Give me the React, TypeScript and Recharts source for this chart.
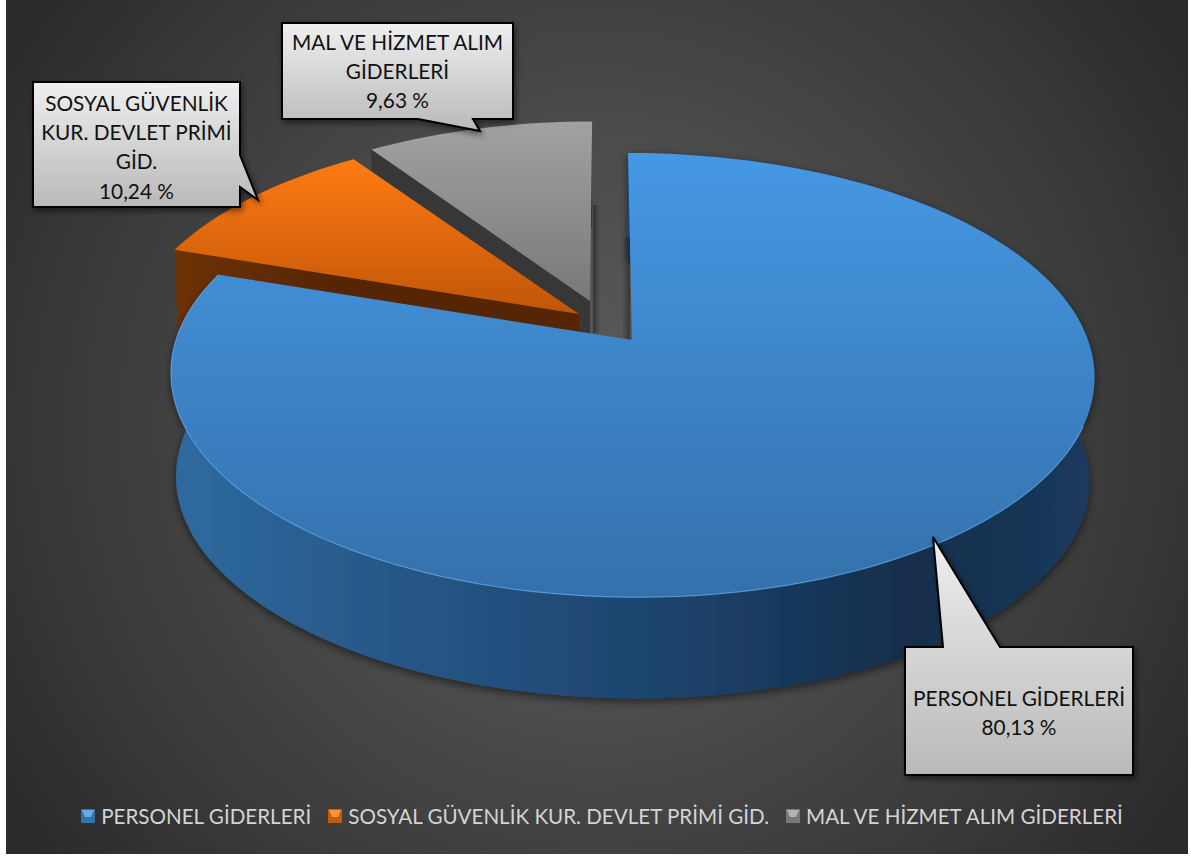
import React from "react";
import { PieChart, Pie, Legend } from "recharts";

const categories = [
  "PERSONEL GİDERLERİ",
  "SOSYAL GÜVENLİK KUR. DEVLET PRİMİ GİD.",
  "MAL VE HİZMET ALIM GİDERLERİ",
];
const shares = [80.13, 10.24, 9.63];
const calloutLines = [
  ["PERSONEL GİDERLERİ"],
  ["SOSYAL GÜVENLİK", "KUR. DEVLET PRİMİ", "GİD."],
  ["MAL VE HİZMET ALIM", "GİDERLERİ"],
];
const sliceColors = ["#4698e4", "#ff7b13", "#a2a2a2"];

const FONT = "Lato, 'Open Sans', sans-serif";
const WIDTH = 1182;
const HEIGHT = 854;

// Look of each slice: top gradient, wall colour, how far it is pulled out
const sliceStyles = [
  { top: ["#4698e4", "#3470ab"], wall: "#1f4f80", pull: [0, 0], lean: 4.6, scale: 1 },
  { top: ["#ff7b13", "#c05507"], wall: "#552504", pull: [-53, -26], lean: 0, scale: 0.982 },
  { top: ["#a2a2a2", "#787878"], wall: "#373737", pull: [-42, -39], lean: -2.4, scale: 0.96 },
];

// Callout boxes with their pointer, in chart coordinates
const callouts = [
  {
    box: [899, 647, 228, 128],
    tail: [[937, 647], [927, 537], [994, 647]],
    side: "top",
    textY: 697,
  },
  {
    box: [27, 82, 207, 125],
    tail: [[234, 155], [252, 200], [234, 187]],
    side: "right",
    textY: 102,
  },
  {
    box: [276, 23, 231, 96],
    tail: [[467, 119], [474, 131], [412, 119]],
    side: "bottom",
    textY: 41,
  },
];

// Drawn back to front, so the large slice ends up over the other two
const table = categories
  .map((name, i) => ({ name, value: shares[i], fill: sliceColors[i], order: i }))
  .reverse();

const TILT = 0.475;
const PERSPECTIVE = 0.158;
const DEPTH = 104;
const FLOOR_SCALE = 0.989;

// Puts a point of the round pie on the tilted disc. deg runs clockwise from 12 o'clock.
function project(cx: number, cy: number, r: number, deg: number, lean: number, floor = false) {
  const a = (deg * Math.PI) / 180;
  const u = Math.sin(a);
  const v = -Math.cos(a);
  const w = 1 - PERSPECTIVE * v;
  const s = floor ? FLOOR_SCALE : 1;
  return [
    cx + (s * r * u + lean * v) / w,
    cy + (floor ? DEPTH : 0) + (s * r * TILT * v) / w,
  ];
}

function arc(cx: number, cy: number, r: number, from: number, to: number, lean: number, floor = false) {
  const pts: number[][] = [];
  const steps = Math.max(8, Math.ceil(Math.abs(to - from) / 2));
  for (let i = 0; i <= steps; i++) {
    pts.push(project(cx, cy, r, from + ((to - from) * i) / steps, lean, floor));
  }
  return pts;
}

const toLine = (pts: number[][]) =>
  "M" + pts.map((p) => `${p[0].toFixed(1)},${p[1].toFixed(1)}`).join("L");
const toPath = (pts: number[][]) => toLine(pts) + "Z";

function SliceShape(props: any) {
  const { cx, cy, outerRadius, startAngle, endAngle, payload } = props;
  const order: number = payload.order;
  const st = sliceStyles[order];
  const px = cx + st.pull[0];
  const py = cy + st.pull[1];
  const r = outerRadius * st.scale;
  // library angles are counter-clockwise from 3 o'clock
  const a0 = 90 - Math.max(startAngle, endAngle);
  const a1 = 90 - Math.min(startAngle, endAngle);
  const from = ((a0 % 360) + 360) % 360;
  const to = from + (a1 - a0);
  const topArc = arc(px, py, r, from, to, st.lean);
  const floorArc = arc(px, py, r, from, to, st.lean, true);
  const id = `slice-${order}`;

  return (
    <g>
      <defs>
        <linearGradient id={id} x1="0" y1="0" x2="0" y2="1">
          <stop offset="0" stopColor={st.top[0]} />
          <stop offset="1" stopColor={st.top[1]} />
        </linearGradient>
        <linearGradient id="blue-wall" gradientUnits="userSpaceOnUse" x1="170" y1="0" x2="1085" y2="0">
          <stop offset="0" stopColor="#2e6a9f" />
          <stop offset="0.2" stopColor="#285a8a" />
          <stop offset="0.5" stopColor="#1e4670" />
          <stop offset="0.8" stopColor="#142e4b" />
          <stop offset="1" stopColor="#1b3a5c" />
        </linearGradient>
        <linearGradient id="orange-cut" gradientUnits="userSpaceOnUse" x1="170" y1="0" x2="330" y2="0">
          <stop offset="0" stopColor="#6e3205" />
          <stop offset="1" stopColor="#552504" />
        </linearGradient>
        <linearGradient id="gap-left" x1="0" y1="0" x2="1" y2="0">
          <stop offset="0" stopColor="#000" stopOpacity="0" />
          <stop offset="1" stopColor="#000" stopOpacity="0.35" />
        </linearGradient>
        <linearGradient id="gap-right" x1="0" y1="0" x2="1" y2="0">
          <stop offset="0" stopColor="#000" stopOpacity="0.4" />
          <stop offset="1" stopColor="#000" stopOpacity="0" />
        </linearGradient>
        <filter id="pie-shadow" x="-5%" y="-5%" width="110%" height="115%">
          <feDropShadow dx="0" dy="3" stdDeviation="4" floodColor="#000" floodOpacity="0.55" />
        </filter>
      </defs>

      {/* outer wall */}
      <path
        d={toPath([...topArc, ...[...floorArc].reverse()])}
        fill={order === 0 ? "url(#blue-wall)" : order === 1 ? "#6e3205" : st.wall}
        filter={order === 0 ? "url(#pie-shadow)" : undefined}
      />

      {/* cut face, only the pulled out slices show one */}
      {order > 0 && (
        <path
          d={toPath([[px, py], topArc[0], floorArc[0], [px, py + DEPTH]])}
          fill={order === 1 ? "url(#orange-cut)" : st.wall}
        />
      )}
      {order === 2 && <rect x={px + 3} y={205} width={7} height={128} fill="url(#gap-right)" />}
      {order === 0 && <rect x={cx - 10} y={237} width={8} height={103} fill="url(#gap-left)" />}

      {/* top face */}
      <path d={toPath([[px, py], ...topArc])} fill={`url(#${id})`} />
      {order === 0 && (
        <path
          d={toLine(arc(px, py, r, 112, to, st.lean))}
          fill="none"
          stroke="#5aa5e8"
          strokeOpacity={0.8}
          strokeWidth={1.2}
        />
      )}
    </g>
  );
}

function Callout(props: any) {
  const order: number = props.payload?.order ?? props.order;
  const c = callouts[order];
  const [x, y, w, h] = c.box;
  const [t0, t1, t2] = c.tail;
  let pts: number[][] = [];
  if (c.side === "top") {
    pts = [[x, y], t0, t1, t2, [x + w, y], [x + w, y + h], [x, y + h]];
  } else if (c.side === "right") {
    pts = [[x, y], [x + w, y], t0, t1, t2, [x + w, y + h], [x, y + h]];
  } else {
    pts = [[x, y], [x + w, y], [x + w, y + h], t0, t1, t2, [x, y + h]];
  }
  const lines = [
    ...calloutLines[order],
    `${shares[order].toFixed(2).replace(".", ",")} %`,
  ];
  const id = `callout-${order}`;
  return (
    <g>
      <defs>
        <linearGradient id={id} x1="0" y1="0" x2="0" y2="1">
          <stop offset="0" stopColor="#efefef" />
          <stop offset="1" stopColor="#b9b9b9" />
        </linearGradient>
        <filter id={`${id}-shadow`} x="-10%" y="-10%" width="125%" height="125%">
          <feDropShadow dx="2" dy="3" stdDeviation="3" floodColor="#000" floodOpacity="0.5" />
        </filter>
      </defs>
      <path
        d={toPath(pts)}
        fill={`url(#${id})`}
        stroke="#000"
        strokeWidth={2}
        strokeLinejoin="miter"
        filter={`url(#${id}-shadow)`}
      />
      {lines.map((line, i) => (
        <text
          key={line}
          x={x + w / 2}
          y={c.textY + i * 29.4}
          textAnchor="middle"
          dominantBaseline="central"
          fontFamily={FONT}
          fontSize={20.8}
          fill="#111"
        >
          {line}
        </text>
      ))}
    </g>
  );
}

function LegendIcon({ color }: { color: string }) {
  return (
    <svg width={14} height={14} style={{ flex: "none", marginRight: 6 }}>
      <rect width={14} height={14} fill={color} />
      <rect width={14} height={14} fill="#000" opacity={0.25} />
      <polygon points="1,1 13,1 10,8 4,8" fill={color} />
      <polygon points="1,1 13,1 10,8 4,8" fill="#fff" opacity={0.18} />
    </svg>
  );
}

function LegendRow(props: any) {
  // keep the legend in category order, the pie is fed back to front
  const items = [...(props.payload ?? [])].sort(
    (a: any, b: any) => categories.indexOf(a.value) - categories.indexOf(b.value)
  );
  return (
    <div
      style={{
        display: "flex",
        justifyContent: "center",
        alignItems: "center",
        gap: 17,
        paddingLeft: 10,
        fontFamily: FONT,
        fontSize: 20.6,
        color: "#d4d4d4",
        whiteSpace: "nowrap",
        lineHeight: "24px",
      }}
    >
      {items.map((entry: any) => (
        <span key={entry.value} style={{ display: "flex", alignItems: "center" }}>
          <LegendIcon color={entry.color} />
          {entry.value}
        </span>
      ))}
    </div>
  );
}

export default function App() {
  return (
    <div
      style={{
        position: "absolute",
        left: 6,
        top: 0,
        width: WIDTH,
        height: HEIGHT,
        background:
          "radial-gradient(circle 700px at 50% 50%, #5c5c5c 0%, #4c4c4c 40%, #3b3b3b 72%, #2b2b2b 100%)",
      }}
    >
      <PieChart width={WIDTH} height={HEIGHT} margin={{ top: 0, right: 0, bottom: 0, left: 0 }}>
        <Pie
          data={table}
          dataKey="value"
          nameKey="name"
          cx={626}
          cy={340}
          outerRadius={456}
          startAngle={90}
          endAngle={450}
          stroke="none"
          isAnimationActive={false}
          shape={SliceShape}
          label={Callout}
          labelLine={false}
        />
        <Legend
          content={LegendRow}
          wrapperStyle={{ position: "absolute", left: 0, top: 804, width: WIDTH }}
        />
      </PieChart>
    </div>
  );
}
